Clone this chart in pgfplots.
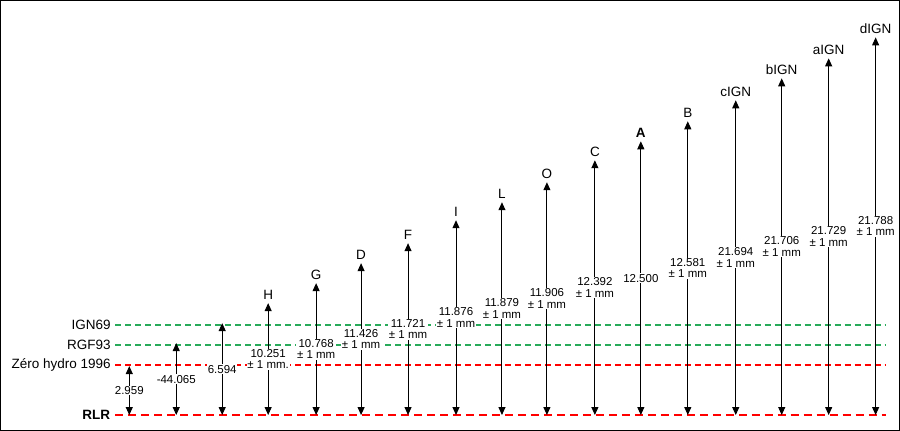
\documentclass[border=0pt]{standalone}
\usepackage{fontspec}
\setmainfont{Liberation Sans}
\usepackage{pgfplots}
\pgfplotsset{compat=1.18}
\usetikzlibrary{arrows.meta}
\definecolor{grn}{RGB}{40,170,90}
\tikzset{
  arr/.style={black,line width=1pt,mark=none,{Triangle[length=8pt,width=7pt]}-{Triangle[length=8pt,width=7pt]}},
  val/.style={pos=0.5,fill=white,inner sep=0.8pt,font=\fontsize{11.5}{11.5}\selectfont,align=center},
  nm/.style={pos=1,above,inner sep=3pt,font=\fontsize{13.5}{15}\selectfont},
  lab/.style={pos=0,left,inner sep=4pt,font=\fontsize{13.5}{15}\selectfont,text=black},
}
\begin{document}
\begin{tikzpicture}
\begin{axis}[width=900pt,height=430pt,scale only axis,
  xmin=0,xmax=900,ymin=-15,ymax=415,
  xtick=\empty,ytick=\empty,
  axis line style={line width=0.8pt},
  clip=false,
]
% reference levels
\addplot[draw=grn,line width=1.25pt,dash pattern=on 6pt off 4pt,mark=none] coordinates {(115,90) (886,90)} node[lab] {IGN69};
\addplot[draw=grn,line width=1.25pt,dash pattern=on 6pt off 4pt,mark=none] coordinates {(115,70) (886,70)} node[lab] {RGF93};
\addplot[draw=red,line width=1.25pt,dash pattern=on 6pt off 4pt,mark=none] coordinates {(115,50) (886,50)} node[lab] {Zéro hydro 1996};
\addplot[draw=red,line width=2.5pt,dash pattern=on 8pt off 5pt,mark=none] coordinates {(115,0) (886,0)} node[lab] {\textbf{RLR}};
% arrows
\addplot[arr] coordinates {(129,0) (129,49)} node[val] {2.959};
\addplot[arr] coordinates {(176,0) (176,72)} node[val] {-44.065};
\addplot[arr] coordinates {(222,0) (222,92)} node[val] {6.594};
\addplot[arr] coordinates {(268,0) (268,112)} node[val] {10.251\\± 1 mm.} node[nm] {H};
\addplot[arr] coordinates {(316,0) (316,132)} node[val] {10.768\\± 1 mm} node[nm] {G};
\addplot[arr] coordinates {(361,0) (361,152)} node[val] {11.426\\± 1 mm} node[nm] {D};
\addplot[arr] coordinates {(408,0) (408,172)} node[val] {11.721\\± 1 mm} node[nm] {F};
\addplot[arr] coordinates {(456,0) (456,195)} node[val] {11.876\\± 1 mm} node[nm] {I};
\addplot[arr] coordinates {(502,0) (502,213)} node[val] {11.879\\± 1 mm} node[nm] {L};
\addplot[arr] coordinates {(547,0) (547,233)} node[val] {11.906\\± 1 mm} node[nm] {O};
\addplot[arr] coordinates {(595,0) (595,255)} node[val] {12.392\\± 1 mm} node[nm] {C};
\addplot[arr] coordinates {(641,0) (641,274)} node[val] {12.500} node[nm] {\textbf{A}};
\addplot[arr] coordinates {(688,0) (688,294)} node[val] {12.581\\± 1 mm} node[nm] {B};
\addplot[arr] coordinates {(736,0) (736,315)} node[val] {21.694\\± 1 mm} node[nm] {cIGN};
\addplot[arr] coordinates {(782,0) (782,337)} node[val] {21.706\\± 1 mm} node[nm] {bIGN};
\addplot[arr] coordinates {(829,0) (829,357)} node[val] {21.729\\± 1 mm} node[nm] {aIGN};
\addplot[arr] coordinates {(876,0) (876,378)} node[val] {21.788\\± 1 mm} node[nm] {dIGN};
\end{axis}
\end{tikzpicture}
\end{document}
